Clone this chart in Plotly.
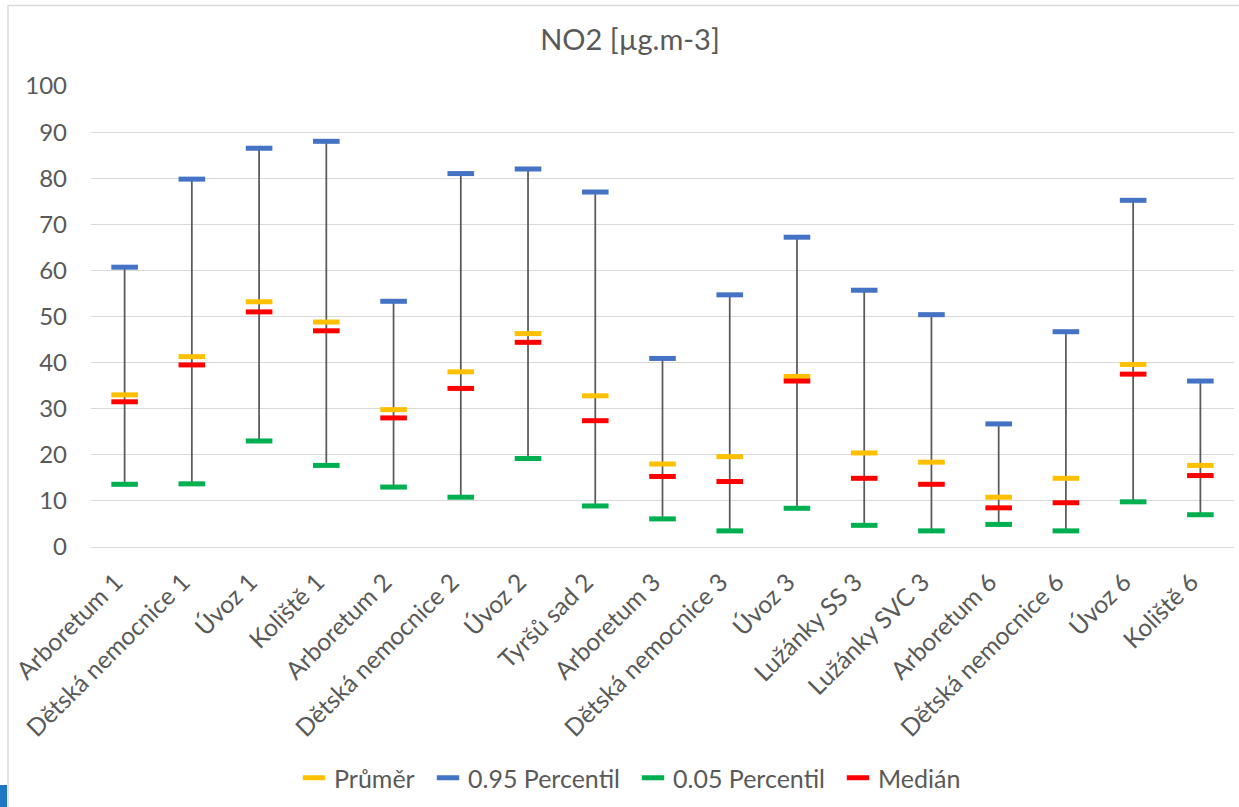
import plotly.graph_objects as go

categories = ["Arboretum 1", "Dětská nemocnice 1", "Úvoz 1", "Koliště 1", "Arboretum 2",
              "Dětská nemocnice 2", "Úvoz 2", "Tyršů sad 2", "Arboretum 3", "Dětská nemocnice 3",
              "Úvoz 3", "Lužánky SS 3", "Lužánky SVC 3", "Arboretum 6", "Dětská nemocnice 6",
              "Úvoz 6", "Koliště 6"]
prumer = [33.0, 41.3, 53.2, 48.8, 29.8, 38.0, 46.3, 32.8, 18.0, 19.6, 37.0, 20.4, 18.4, 10.8, 14.9, 39.6, 17.7]
p95 = [60.7, 79.8, 86.5, 88.0, 53.3, 81.0, 82.0, 77.0, 40.9, 54.7, 67.2, 55.7, 50.4, 26.7, 46.7, 75.2, 36.0]
p05 = [13.6, 13.7, 23.0, 17.7, 13.0, 10.8, 19.2, 8.9, 6.1, 3.5, 8.4, 4.7, 3.5, 4.9, 3.5, 9.8, 7.0]
median = [31.5, 39.5, 51.0, 46.9, 28.0, 34.4, 44.4, 27.4, 15.3, 14.2, 36.0, 14.9, 13.6, 8.5, 9.6, 37.5, 15.5]
y_ticks = [0, 10, 20, 30, 40, 50, 60, 70, 80, 90, 100]

FONT = "Lato"
GREY = "#595959"

W, H = 1239, 807
ML, MR, MT, MB = 91, 5, 86, 260
PW, PH = W - ML - MR, H - MT - MB


def xp(px):
    return (px - ML) / PW


def yp(py):
    return (H - MB - py) / PH


fig = go.Figure()

# high-low lines
lx, ly = [], []
for c, lo, hi in zip(categories, p05, p95):
    lx += [c, c, None]
    ly += [lo, hi, None]
fig.add_trace(go.Scatter(x=lx, y=ly, mode="lines", line=dict(color=GREY, width=1.75),
                         showlegend=False, hoverinfo="skip"))

series = [("Průměr", prumer, "#FFC000"), ("0.95 Percentil", p95, "#4472C4"),
          ("0.05 Percentil", p05, "#00B050"), ("Medián", median, "#FF0000")]
legend_ids = ["legend", "legend2", "legend3", "legend4"]
# left pixel of each legend entry
legend_left = [294, 428, 633, 838]

for (name, vals, col), lid in zip(series, legend_ids):
    fig.add_trace(go.Scatter(x=categories, y=vals, mode="markers", name=name, legend=lid,
                             marker=dict(symbol="line-ew", size=19,
                                         line=dict(color=col, width=5))))

legend_cfg = {}
for lid, left in zip(legend_ids, legend_left):
    legend_cfg[lid] = dict(orientation="h", x=xp(left), xanchor="left", y=yp(778), yanchor="middle",
                           font=dict(size=25, color=GREY, family=FONT), bgcolor="rgba(0,0,0,0)",
                           borderwidth=0)

fig.update_layout(
    width=W, height=H,
    margin=dict(l=ML, r=MR, t=MT, b=MB),
    paper_bgcolor="white", plot_bgcolor="white",
    font=dict(family=FONT, color=GREY),
    title=dict(text="NO2 [µg.m-3]", x=630 / W, xanchor="center", y=1 - 40 / H, yanchor="middle",
               font=dict(size=29, color=GREY, family=FONT)),
    showlegend=True,
    shapes=[
        dict(type="rect", xref="paper", yref="paper", x0=xp(8), x1=xp(1245), y0=yp(815), y1=yp(5.5),
             line=dict(color="#D9D9D9", width=1.3), fillcolor="rgba(0,0,0,0)", layer="below"),
        dict(type="rect", xref="paper", yref="paper", x0=xp(0), x1=xp(7), y0=yp(807), y1=yp(785),
             line=dict(width=0), fillcolor="#1F76C2"),
    ],
    **legend_cfg,
)
fig.update_xaxes(type="category", tickangle=-45, tickfont=dict(size=24.5, color=GREY, family=FONT),
                 showgrid=False, showline=False, ticks="", range=[-0.5, len(categories) - 0.5],
                 ticklabelstandoff=15, ticklabelshift=-9)
fig.update_yaxes(range=[0, 100], tickvals=y_ticks, tickfont=dict(size=24, color=GREY, family=FONT),
                 showgrid=True, gridcolor="#D9D9D9", gridwidth=1.3, zeroline=True, zerolinecolor="#D9D9D9",
                 zerolinewidth=1.3, showline=False, ticks="", ticklabelstandoff=23)

fig.write_html("out.html", config={"displayModeBar": False},
               post_script="document.body.style.margin='0';document.body.style.padding='0';")
